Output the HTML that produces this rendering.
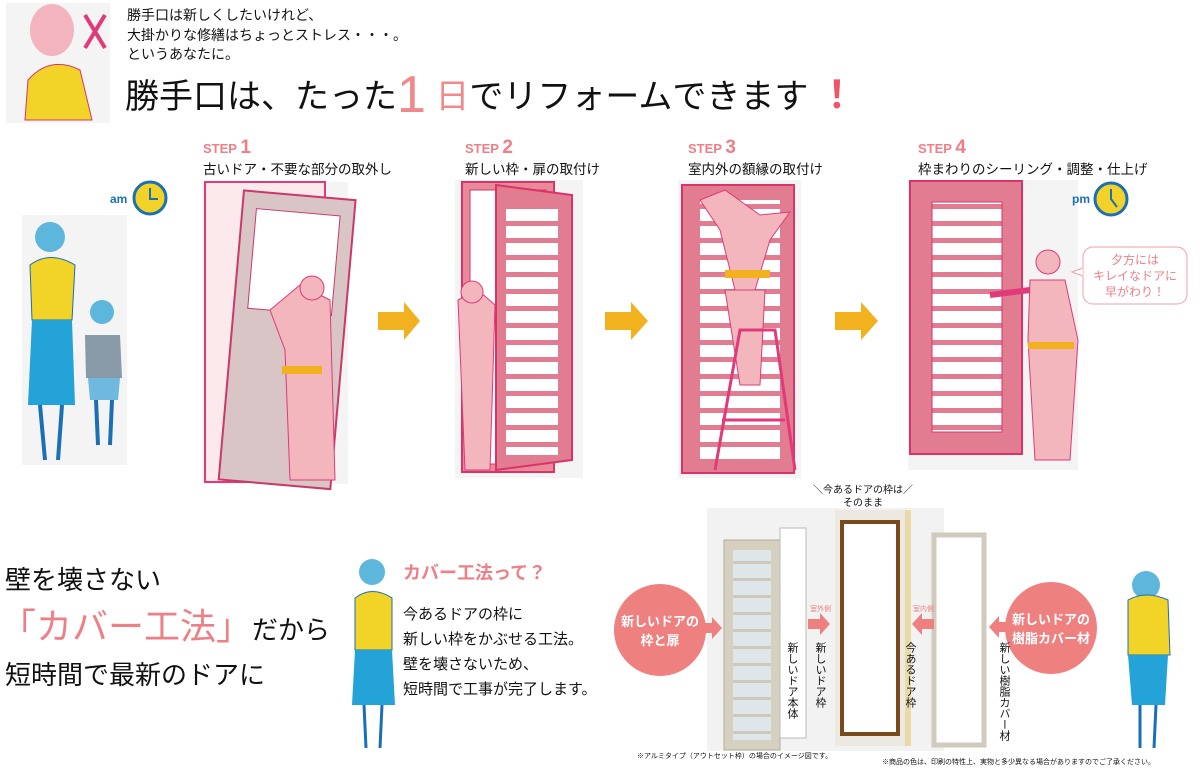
<!DOCTYPE html>
<html><head><meta charset="utf-8"><style>
body{margin:0;width:1200px;height:769px;background:#fff;position:relative;overflow:hidden;font-family:"Liberation Sans","Noto Sans CJK JP",sans-serif;color:#111}
.a{position:absolute;white-space:nowrap}
.st{color:#ee7f86;font-weight:bold;font-size:13px}
.st b{font-size:19px}
.cap{font-size:13.5px}
</style></head><body>
<svg class="a" style="left:0;top:0" width="1200" height="769">
<defs>
<pattern id="sl" width="10" height="17" patternUnits="userSpaceOnUse"><rect width="10" height="17" fill="#fff"/><rect width="10" height="5" fill="#e27c90"/></pattern>
<pattern id="sl2" width="10" height="17" patternUnits="userSpaceOnUse"><rect width="10" height="17" fill="#dfe6ea"/><rect width="10" height="3" fill="#cfc9bd"/></pattern>
</defs>
<rect x="6" y="3" width="104" height="120" fill="#f4f4f4"/>
<ellipse cx="52" cy="30" rx="22" ry="26" fill="#f4b4bf"/>
<path d="M28 80 Q50 55 80 70 L92 120 L25 120Z" fill="#f1d427" stroke="#d9346a"/>
<line x1="85" y1="15" x2="105" y2="48" stroke="#e03a78" stroke-width="4"/><line x1="105" y1="15" x2="85" y2="48" stroke="#e03a78" stroke-width="4"/>
<rect x="202" y="182" width="146" height="302" fill="#f4f4f4"/>
<rect x="455" y="180" width="128" height="298" fill="#f4f4f4"/>
<rect x="678" y="180" width="123" height="298" fill="#f4f4f4"/>
<rect x="908" y="180" width="170" height="290" fill="#f4f4f4"/>
<rect x="205" y="182" width="120" height="300" fill="#fbe9ec" stroke="#e03a78" stroke-width="2"/>
<g transform="rotate(5 290 330)"><rect x="232" y="195" width="112" height="290" fill="#d9c4c6" stroke="#c9396a" stroke-width="2"/><rect x="246" y="212" width="84" height="100" fill="#fff" stroke="#c9396a"/></g>
<path d="M270 310 L300 285 L330 300 L335 480 L290 480 L285 350Z" fill="#f3b6bd" stroke="#e03a78"/>
<circle cx="312" cy="288" r="12" fill="#f3b6bd" stroke="#e03a78"/>
<rect x="282" y="366" width="40" height="8" fill="#f2b11f"/>
<rect x="462" y="182" width="92" height="290" fill="#e9899a" stroke="#d9346a" stroke-width="2"/>
<rect x="470" y="190" width="76" height="274" fill="#fff" stroke="#d9346a"/>
<path d="M496 185 L572 195 L572 460 L496 470Z" fill="#e27c90" stroke="#d9346a" stroke-width="2"/>
<rect x="506" y="205" width="52" height="250" fill="url(#sl)"/>
<path d="M458 300 L478 290 L495 305 L490 470 L465 470Z" fill="#f3b6bd" stroke="#e03a78"/>
<circle cx="472" cy="292" r="11" fill="#f3b6bd" stroke="#e03a78"/>
<rect x="682" y="185" width="112" height="288" fill="#e27c90" stroke="#d9346a" stroke-width="2"/>
<rect x="700" y="200" width="80" height="260" fill="url(#sl)"/>
<path d="M700 200 L725 190 L760 215 L790 212 L770 240 L755 290 L735 290 L720 230Z" fill="#f3b6bd" stroke="#e03a78"/>
<rect x="725" y="270" width="45" height="8" fill="#f2b11f"/>
<path d="M725 290 L765 290 L760 385 L740 385Z" fill="#f3b6bd" stroke="#e03a78"/>
<path d="M715 470 L740 330 L775 330 L795 470" fill="none" stroke="#e03a78" stroke-width="3"/>
<line x1="722" y1="420" x2="785" y2="420" stroke="#e03a78" stroke-width="3"/>
<rect x="910" y="181" width="112" height="273" fill="#e27c90" stroke="#d9346a" stroke-width="2"/>
<rect x="932" y="202" width="70" height="230" fill="url(#sl)" stroke="#d9346a"/>
<path d="M1030 280 L1065 280 L1078 340 L1070 460 L1035 460 L1028 340Z" fill="#f3b6bd" stroke="#e03a78"/>
<circle cx="1048" cy="262" r="12" fill="#f3b6bd" stroke="#e03a78"/>
<rect x="1028" y="342" width="46" height="7" fill="#f2b11f"/>
<path d="M1030 290 L990 295" stroke="#e03a78" stroke-width="6"/>
<rect x="1083" y="247" width="104" height="57" rx="10" fill="#fff" stroke="#f0a0a8"/>
<path d="M1083 268 L1072 272 L1083 276" fill="#fff" stroke="#f0a0a8"/>
<circle cx="150" cy="198" r="16" fill="#f2d227" stroke="#1a6fb5" stroke-width="3"/><path d="M150 188 L150 199 L158 199" stroke="#1a6fb5" stroke-width="2" fill="none"/>
<circle cx="1111" cy="199" r="16" fill="#f2d227" stroke="#1a6fb5" stroke-width="3"/><path d="M1111 189 L1111 199 L1117 207" stroke="#1a6fb5" stroke-width="2" fill="none"/>
<rect x="22" y="215" width="105" height="250" fill="#f4f4f4"/>
<circle cx="50" cy="237" r="15" fill="#5db7dd"/>
<path d="M30 265 Q50 250 75 265 L72 320 L32 320Z" fill="#f1d427" stroke="#1a6fb5"/>
<path d="M32 320 L72 320 L75 405 L28 405Z" fill="#24a3d8"/>
<path d="M40 405 L45 460 M62 405 L58 460" stroke="#1a6fb5" stroke-width="4"/>
<circle cx="102" cy="312" r="12" fill="#5db7dd"/>
<path d="M85 335 L120 335 L122 378 L86 378Z" fill="#8899a8"/>
<path d="M88 378 L120 378 L118 400 L90 400Z" fill="#6fb8e0"/>
<path d="M96 400 L98 445 M112 400 L110 445" stroke="#1a6fb5" stroke-width="4"/>
<path d="M378 312 L404 312 L404 302 L420 321 L404 340 L404 330 L378 330Z" fill="#f2b11f"/>
<path d="M605 312 L631 312 L631 302 L648 321 L631 340 L631 330 L605 330Z" fill="#f2b11f"/>
<path d="M835 312 L861 312 L861 302 L878 321 L861 340 L861 330 L835 330Z" fill="#f2b11f"/>
<circle cx="372" cy="572" r="13" fill="#5db7dd"/>
<path d="M355 598 Q372 585 392 598 L392 650 L355 650Z" fill="#f1d427" stroke="#1a6fb5"/>
<path d="M355 650 L392 650 L395 705 L352 705Z" fill="#24a3d8"/>
<path d="M364 705 L366 748 M382 705 L380 748" stroke="#1a6fb5" stroke-width="3"/>
<rect x="707" y="508" width="237" height="243" fill="#f2f2f2"/>
<rect x="724" y="540" width="56" height="210" fill="#d6d0c1" stroke="#b3ad9c"/>
<rect x="733" y="550" width="38" height="190" fill="url(#sl2)"/>
<rect x="780" y="528" width="26" height="210" fill="#fff" stroke="#bbb"/>
<rect x="835" y="510" width="70" height="236" fill="#ece9e2"/>
<rect x="905" y="510" width="6" height="236" fill="#ecd9a8"/>
<rect x="842" y="522" width="56" height="212" fill="#fff" stroke="#7a4a1c" stroke-width="4"/>
<rect x="934" y="535" width="50" height="210" fill="#fff" stroke="#d0cbbe" stroke-width="5"/>
<circle cx="660" cy="630" r="46" fill="#ef8080"/>
<circle cx="1051" cy="628" r="46" fill="#ef8080"/>
<path d="M703 623 L712 623 L712 617 L722 628 L712 639 L712 633 L703 633Z" fill="#ef8080"/>
<path d="M808 619 L820 619 L820 613 L830 624 L820 635 L820 629 L808 629Z" fill="#ef8080"/>
<path d="M934 619 L922 619 L922 613 L912 624 L922 635 L922 629 L934 629Z" fill="#ef8080"/>
<path d="M1008 622 L999 622 L999 616 L989 627 L999 638 L999 632 L1008 632Z" fill="#ef8080"/>
<circle cx="1146" cy="585" r="14" fill="#5db7dd"/>
<path d="M1128 600 Q1146 590 1168 600 L1170 655 L1128 655Z" fill="#f1d427" stroke="#1a6fb5"/>
<path d="M1128 655 L1168 655 L1165 705 L1132 705Z" fill="#24a3d8"/>
<path d="M1140 705 L1140 748 M1156 705 L1154 748" stroke="#1a6fb5" stroke-width="3"/>
</svg>

<div class="a" style="left:127px;top:6px;font-size:14px;line-height:19.5px">勝手口は新しくしたいけれど、<br>大掛かりな修繕はちょっとストレス・・・。<br>というあなたに。</div>
<div class="a" style="left:125px;top:71px;font-size:34px;line-height:48px">勝手口は、たった<span style="color:#f08a8a;font-size:52px;vertical-align:-4px">1</span> <span style="color:#f08a8a">日</span>でリフォームできます <span style="color:#ee5566;font-size:38px;font-weight:bold">！</span></div>

<div class="a st" style="left:203px;top:137px">STEP <b>1</b></div>
<div class="a cap" style="left:203px;top:158px">古いドア・不要な部分の取外し</div>
<div class="a st" style="left:465px;top:137px">STEP <b>2</b></div>
<div class="a cap" style="left:465px;top:158px">新しい枠・扉の取付け</div>
<div class="a st" style="left:688px;top:137px">STEP <b>3</b></div>
<div class="a cap" style="left:688px;top:158px">室内外の額縁の取付け</div>
<div class="a st" style="left:918px;top:137px">STEP <b>4</b></div>
<div class="a cap" style="left:918px;top:158px">枠まわりのシーリング・調整・仕上げ</div>
<div class="a" style="left:110px;top:192px;font-size:12px;font-weight:bold;color:#1a6fb5">am</div>
<div class="a" style="left:1072px;top:192px;font-size:12px;font-weight:bold;color:#1a6fb5">pm</div>
<div class="a" style="left:1083px;top:252px;width:104px;text-align:center;font-size:12px;line-height:16px;color:#ee7f86">夕方には<br>キレイなドアに<br>早がわり！</div>

<div class="a" style="left:5px;top:560px;font-size:26px">壁を壊さない</div>
<div class="a" style="left:0px;top:598px;font-size:26px"><span style="color:#ee7f86;font-size:36px">「カバー工法」</span>だから</div>
<div class="a" style="left:5px;top:655px;font-size:26px">短時間で最新のドアに</div>
<div class="a" style="left:403px;top:559px;font-size:18px;color:#ee7f86;font-weight:bold">カバー工法って？</div>
<div class="a" style="left:403px;top:602px;font-size:15px;line-height:25px">今あるドアの枠に<br>新しい枠をかぶせる工法。<br>壁を壊さないため、<br>短時間で工事が完了します。</div>

<div class="a" style="left:614px;top:612px;width:92px;text-align:center;font-size:13px;line-height:19px;color:#fff;font-weight:bold">新しいドアの<br>枠と扉</div>
<div class="a" style="left:1005px;top:610px;width:92px;text-align:center;font-size:13px;line-height:19px;color:#fff;font-weight:bold">新しいドアの<br>樹脂カバー材</div>
<div class="a" style="left:808px;top:484px;width:110px;text-align:center;font-size:10px;line-height:13px">＼今あるドアの枠は／<br>そのまま</div>
<div class="a" style="left:810px;top:604px;font-size:7px;color:#ef8080">室外側</div>
<div class="a" style="left:913px;top:604px;font-size:7px;color:#ef8080">室内側</div>
<div class="a" style="left:784px;top:642px;font-size:11px;writing-mode:vertical-rl">新しいドア本体</div>
<div class="a" style="left:812px;top:642px;font-size:11px;writing-mode:vertical-rl">新しいドア枠</div>
<div class="a" style="left:902px;top:642px;font-size:11px;writing-mode:vertical-rl">今あるドア枠</div>
<div class="a" style="left:996px;top:642px;font-size:11px;writing-mode:vertical-rl">新しい樹脂カバー材</div>
<div class="a" style="left:637px;top:751px;font-size:7px">※アルミタイプ（アウトセット枠）の場合のイメージ図です。</div>
<div class="a" style="left:882px;top:757px;font-size:7px">※商品の色は、印刷の特性上、実物と多少異なる場合がありますのでご了承ください。</div>
</body></html>
